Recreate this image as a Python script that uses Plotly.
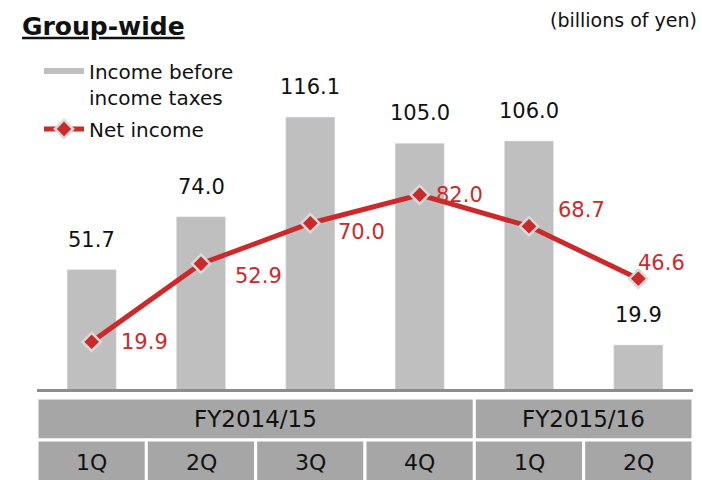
import plotly.graph_objects as go

quarters = ["1Q", "2Q", "3Q", "4Q", "1Q", "2Q"]
fiscal_years = ["FY2014/15", "FY2015/16"]
fy_spans = [4, 2]
income_before_tax = [51.7, 74.0, 116.1, 105.0, 106.0, 19.9]
net_income = [19.9, 52.9, 70.0, 82.0, 68.7, 46.6]

FONT = "DejaVu Sans"
GRAY_BAR = "#bfbfbf"
RED = "#cc2a2a"
TABLE = "#a6a6a6"
W, H = 702, 480

x = list(range(len(quarters)))

fig = go.Figure()
# bars: base axis, whose zero sits a few px below the plot bottom
fig.add_trace(go.Bar(
    x=x, y=income_before_tax, marker_color=GRAY_BAR, width=0.45,
    showlegend=False, hoverinfo="skip",
))
# legend entry drawn as a gray line like the original
fig.add_trace(go.Scatter(
    x=[None], y=[None], mode="lines", name="Income before<br>income taxes",
    legendgroup="a", line=dict(color=GRAY_BAR, width=6),
))
fig.add_trace(go.Scatter(
    x=x, y=net_income, yaxis="y2", mode="lines+markers", name="Net income",
    legendgroup="b", line=dict(color=RED, width=5),
    marker=dict(symbol="diamond", size=14, color=RED,
                line=dict(color="#d9d9d9", width=2.5)),
))

annotations = []
for i, v in enumerate(income_before_tax):
    annotations.append(dict(
        x=i, y=v, yref="y", text=f"{v:.1f}", showarrow=False,
        yanchor="bottom", yshift=16,
        font=dict(family=FONT, size=21, color="#111111"),
    ))

# label offsets for net income (px)
ni_dx = [27, 32, 26, 14, 27, -2]
ni_dy = [0, -12, -9, 0, 16, 16]
for i, v in enumerate(net_income):
    annotations.append(dict(
        x=i, y=v, yref="y2", text=f"{v:.1f}", showarrow=False,
        xanchor="left", xshift=ni_dx[i], yshift=ni_dy[i],
        font=dict(family=FONT, size=21, color=RED),
    ))

# category table under the axis (paper = whole figure here)
row1 = (1 - 440 / H, 1 - 398 / H)
row2 = (-0.02, 1 - 440 / H)
shapes = []
start = -0.5
for fy, span in zip(fiscal_years, fy_spans):
    shapes.append(dict(type="rect", xref="x", yref="paper",
                       x0=start, x1=start + span, y0=row1[0], y1=row1[1],
                       fillcolor=TABLE, line=dict(color="white", width=3),
                       layer="above"))
    annotations.append(dict(x=start + span / 2, y=1 - 419 / H, xref="x",
                            yref="paper", yanchor="middle", text=fy,
                            showarrow=False,
                            font=dict(family=FONT, size=23, color="#111111")))
    start += span
for i, q in enumerate(quarters):
    shapes.append(dict(type="rect", xref="x", yref="paper",
                       x0=i - 0.5, x1=i + 0.5, y0=row2[0], y1=row2[1],
                       fillcolor=TABLE, line=dict(color="white", width=3),
                       layer="above"))
    annotations.append(dict(x=i, y=1 - 462 / H, xref="x", yref="paper",
                            yanchor="middle", text=q, showarrow=False,
                            font=dict(family=FONT, size=22, color="#111111")))

annotations.append(dict(
    x=699 / W, y=1 - 20 / H, xref="paper", yref="paper", xanchor="right",
    yanchor="middle", text="(billions of yen)", showarrow=False,
    font=dict(family=FONT, size=19, color="#111111"),
))

fig.update_layout(
    width=W, height=H,
    margin=dict(l=0, r=0, t=0, b=0),
    paper_bgcolor="white", plot_bgcolor="white",
    font=dict(family=FONT, color="#111111"),
    title=dict(text="<u><b>Group-wide</b></u>", x=22 / W, xanchor="left",
               y=1 - 26 / H, yanchor="middle",
               font=dict(family=FONT, size=25, color="#111111")),
    xaxis=dict(domain=[37 / W, 693 / W], range=[-0.5, 5.5], showgrid=False,
               showticklabels=False, ticks="", zeroline=False,
               showline=True, linecolor="#8c8c8c", linewidth=3),
    yaxis=dict(domain=[1 - 389 / H, 1 - 93 / H], range=[1.27, 126.27],
               visible=False),
    yaxis2=dict(overlaying="y", range=[0, 125], visible=False),
    showlegend=True,
    legend=dict(x=39 / W, y=1 - 51.5 / H, xref="paper", yref="paper",
                xanchor="left", yanchor="top", valign="top",
                traceorder="grouped", tracegroupgap=3,
                font=dict(family=FONT, size=20, color="#111111"),
                bgcolor="rgba(0,0,0,0)", itemwidth=40),
    annotations=annotations,
    shapes=shapes,
)

# drop the default 8px page margin so the figure fills the window
fig.write_html("out.html", config={"displayModeBar": False},
               post_script="document.body.style.margin = '0';")
